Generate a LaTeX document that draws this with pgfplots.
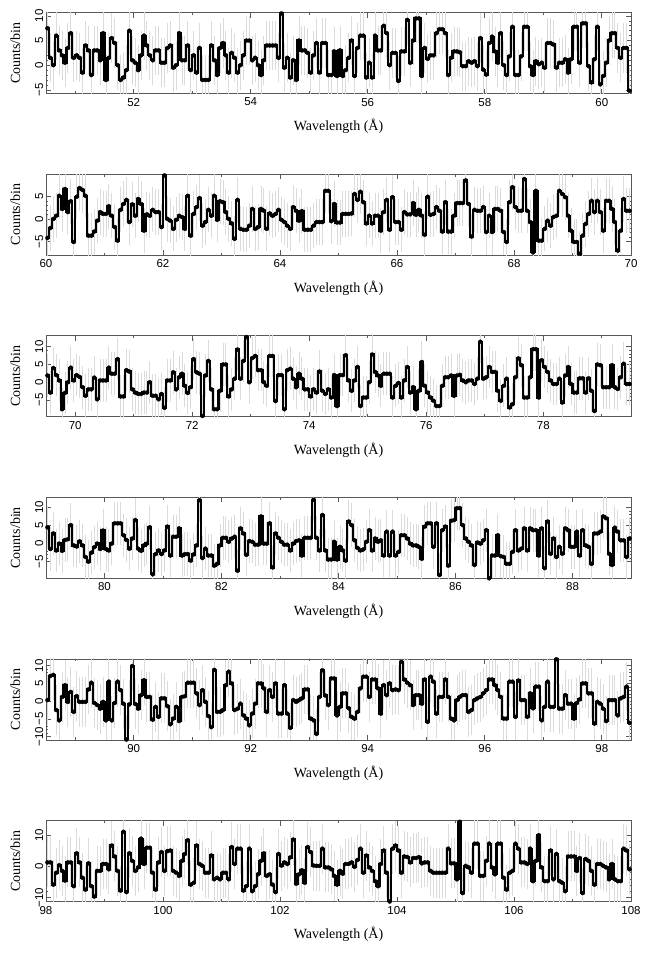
\documentclass[border=0pt]{standalone}
\usepackage{fontspec}
\setmainfont{Liberation Serif}
\setsansfont{Liberation Sans}
\usepackage{pgfplots}
\usepackage{pgfplotstable}
\pgfplotsset{compat=1.18}

\pgfplotstableread[row sep=\\, header=false]{7.5\\1.5\\0\\6\\3\\2\\0.5\\3.5\\6.5\\1.5\\
2\\1.5\\-1.5\\4\\3\\-2\\3\\3\\1\\6.5\\
-3\\1.5\\5.5\\4.5\\0\\-3\\-2.5\\-1\\7\\1\\
0.5\\-1\\2\\6\\4\\2\\1\\3\\3\\0.5\\
0.5\\3.5\\4\\-0.5\\0\\6.5\\1\\1\\4\\-1\\
2\\-1.5\\3.5\\-3\\-3\\-3\\4\\1\\-2\\3.5\\
4.5\\2\\-1.5\\2.5\\1.5\\-1.5\\0\\2\\5\\5\\
1\\1.5\\0\\-2\\1\\4\\4\\4\\4\\1.5\\
10.5\\-0.5\\1.5\\-2.5\\1\\-3\\5\\3\\3\\2.5\\
-1.5\\2\\4.5\\-1.5\\4.5\\4.5\\-2\\-2\\2.8\\-2.2\\
3\\-2.2\\-1\\1.5\\5\\-2.2\\3.5\\6\\6\\-2.5\\
0.5\\-2.5\\6\\3\\3\\8\\6.5\\0\\2.5\\2.5\\
-3.2\\2.8\\2.8\\9.2\\0.5\\5\\9.5\\9.5\\-2.2\\3.5\\
1.3\\2\\2\\6.5\\7.3\\7.3\\6.5\\-2\\1.5\\2.8\\
2.8\\2.6\\-0.2\\-0.2\\0.8\\0.5\\0.8\\-0.2\\5.5\\-0.9\\
-1.9\\4.5\\5.8\\2.8\\0.5\\6.5\\0\\-2\\1.8\\7.8\\
-2\\-2\\1.8\\7.8\\7.8\\-0.2\\-2\\0.8\\0.2\\0.5\\
-0.5\\4.5\\4.5\\4.2\\-0.5\\0.5\\0.5\\1.2\\-1.5\\1.2\\
7.8\\7.8\\0.5\\8.5\\8.5\\-0.2\\-3.5\\1.2\\7.8\\-3.9\\
-2.2\\0.5\\5\\6.5\\6.5\\3.5\\1.5\\3.5\\3.5\\-5.2\\-5.2\\}\dataA

\pgfplotstableread[row sep=\\, header=false]{-4.2\\-2\\0\\0.7\\5.1\\2.2\\6.6\\1.5\\3.9\\-5.1\\
4.9\\6.8\\6.4\\5.1\\-3.7\\-3.7\\-2.8\\-0.4\\1.5\\1.1\\
1.1\\2.8\\0.7\\-1.8\\-4.8\\2\\3.3\\4.2\\-0.7\\3.2\\
0.7\\4.4\\3.3\\-2.6\\1\\0.7\\2\\1.5\\1.5\\-1.8\\
9.6\\0\\-0.4\\-2.2\\-0.2\\0.7\\0.4\\-2.2\\5.1\\-3.7\\
1.1\\2.6\\4.6\\-1.5\\-0.7\\2\\0.7\\5.1\\-0.2\\3.9\\
3.7\\1.5\\0\\-1\\-4.4\\4.2\\-2.2\\-2.4\\-2.4\\-1.5\\
2.2\\-2.2\\-1.8\\2.2\\1.8\\-2.2\\1.2\\0.7\\1.1\\2\\
-0.2\\-0.7\\-1.5\\-2.2\\2.6\\1.8\\-0.4\\1.7\\-2.4\\-2.4\\
-2.4\\-1.5\\-0.7\\-0.7\\-0.7\\6.2\\6.2\\-0.5\\3.3\\-0.8\\
-0.8\\1.1\\1.1\\1.1\\1.2\\5.5\\4.2\\6\\3.7\\-1\\
0.7\\-1\\0.7\\0.7\\-2.6\\1.5\\4.2\\-2.4\\4.8\\-0.7\\
-0.7\\-2.4\\1.5\\1\\1\\3.5\\0.9\\2\\0.7\\-3.5\\
4.9\\0.9\\1.1\\2.6\\1.8\\-2.8\\3.7\\-2.8\\-2.8\\0.7\\
3.5\\3.5\\3.5\\8.5\\3.3\\-3.9\\2\\1.8\\1.8\\2.6\\
-2.9\\0.7\\-2.9\\2.2\\2.2\\1.8\\-2.9\\-5.1\\3.7\\7\\
2.6\\1.8\\1.8\\8.8\\1.8\\-0.7\\-7.4\\6.2\\-4.8\\-4.8\\
-2.2\\-0.4\\-1.5\\0.4\\0.7\\6.2\\5.5\\4.8\\0.7\\-2.6\\
-5.1\\-5.1\\-7.7\\-3.7\\-1.1\\1.1\\4\\1.5\\4\\1.5\\
-2.6\\4\\4\\2.2\\-0.7\\-7\\-2.6\\4.4\\1.8\\1.8\\1.8\\}\dataB

\pgfplotstableread[row sep=\\, header=false]{1.9\\-2.9\\4\\2\\0.5\\-7.6\\-3\\0\\4.1\\0.5\\
2\\1.5\\-1.4\\-3.8\\-2\\-2\\1.3\\-4.8\\0.5\\0.5\\
0.5\\4.1\\2.4\\2.4\\6.5\\-4\\-4\\3.4\\3\\-2\\
-2.9\\-3.3\\-3.3\\-2.9\\-2.9\\0\\-3.8\\-3.8\\-4.8\\-3.3\\
-7.2\\0.5\\0.5\\2.8\\-2\\1.4\\2.4\\-1\\-3\\-1.4\\
6.5\\2.8\\2.4\\-9.5\\1.9\\6\\-2\\-7.6\\-7.6\\-2.4\\
5\\5\\-4\\-2\\1\\9.2\\1\\6\\12.7\\0\\
6.8\\7.4\\3.4\\3.4\\0\\-1\\7.4\\7.4\\-5.3\\2\\
2\\-7.6\\3.4\\3.8\\1\\-1.4\\2.4\\1\\-2\\-2\\
-4\\-2\\-2.9\\3\\-2.4\\-3.3\\-2\\-4.3\\2\\-6.7\\
2\\2\\7.6\\0.5\\-2.4\\0.5\\4.3\\-6.7\\-4.3\\-4.3\\
0\\7.8\\2.9\\1.9\\-1\\2.4\\2.4\\2.4\\-4.3\\-1\\
-0.2\\-4.3\\0.5\\4.3\\-2.9\\-1.4\\-7.6\\-2.4\\5.7\\-1\\
-2.9\\-4.3\\-5.2\\-6.7\\-6.7\\-1\\1.4\\1.4\\1.9\\-3.8\\
1.9\\2.1\\0.5\\0\\0.5\\0.5\\-0.5\\1\\11.4\\1\\
1.4\\4.3\\2.9\\2.9\\-2.4\\-5.2\\-1\\1\\-7.1\\-6.2\\
1.4\\6.7\\4.8\\-4.3\\-4.3\\1.4\\9.3\\9.3\\-4.3\\6.2\\
4.3\\2.9\\0.5\\-0.5\\-0.5\\1\\-5.7\\1.9\\4.3\\-0.5\\
-2.9\\-2.9\\1.1\\1.1\\-2.9\\1.1\\-2.4\\-8.1\\5\\4.8\\
-1.4\\-1.4\\-1.4\\4.8\\-1.4\\-1.9\\1.4\\5.2\\-0.5\\-0.5\\-0.5\\}\dataC

\pgfplotstableread[row sep=\\, header=false]{4.5\\-1.5\\2.8\\-1.9\\0\\-2\\1\\1.2\\5.1\\-0.5\\
-0.8\\0.6\\-0.5\\-3.7\\-5\\-2.5\\-1\\0\\-1.5\\3.6\\
-1.5\\-1.9\\0\\5.6\\5.6\\5.6\\2.3\\1\\-1.4\\1.4\\
6.5\\-1.4\\-2\\-0.5\\0\\4.5\\-8.5\\-2.9\\-1.9\\-2.9\\
-1.9\\4.7\\-3.3\\1.9\\1.9\\4.2\\-3.3\\-2.9\\-2.9\\-4.7\\
-3\\-0.5\\12\\-4\\-1.4\\-3.3\\-3.3\\-6.1\\-5.6\\-0.5\\
1.6\\1.6\\0.5\\1.4\\1.9\\-7.5\\4.2\\2.8\\-3.1\\0.7\\
0.5\\-0.3\\-0.3\\7.5\\0\\0\\5.6\\-6.6\\2.8\\1.6\\
0.5\\-0.3\\-0.3\\-1.9\\0\\0.7\\0.9\\-3.3\\1.6\\1.6\\
1.6\\12.1\\1.6\\-1.9\\7.9\\-1.9\\-4.4\\-4.4\\0.5\\-4.4\\
-0.9\\-1.9\\-4.7\\6.1\\5.1\\0.9\\-1.2\\-1.9\\-1.6\\0.5\\
3.7\\-1.9\\1.4\\0.5\\0.9\\-3.3\\3.3\\-3.3\\3.3\\-3.3\\
-2.3\\2.3\\2.3\\1.4\\0\\-0.5\\-0.5\\-0.9\\-4.2\\4.7\\
5.6\\5.6\\-0.9\\5.6\\-8.7\\3.7\\4.7\\-6.1\\6.3\\6.5\\
9.8\\9.8\\5.1\\1.4\\0.5\\-0.5\\-5.9\\0.3\\0\\0.9\\
3.7\\-9.6\\-3.3\\-3.3\\2.3\\-3.5\\-3.7\\-5.6\\-5.6\\-2.3\\
3.7\\-1.9\\-1.4\\4.2\\-1.9\\4.2\\3.7\\3.7\\-3.3\\4.2\\
-6.8\\6.1\\-2.8\\1.4\\-3.7\\-0.9\\-2.8\\4.2\\3.7\\-0.9\\
-0.9\\3.3\\-3.3\\3.7\\-0.5\\-0.9\\-5.6\\2.8\\2.8\\3.3\\
7.5\\7\\-2.8\\-5.9\\4.4\\3.3\\0.9\\0.9\\-3.7\\1.4\\1.4\\}\dataD

\pgfplotstableread[row sep=\\, header=false]{0.3\\7.1\\7.4\\-2.5\\-5.4\\1.2\\4.5\\-0.2\\2.6\\-3\\
1.4\\-0.2\\-0.2\\-0.2\\3.3\\5.2\\-0.5\\-1.1\\-2.1\\-0.2\\
-5.4\\5.5\\-5.4\\-0.5\\5.5\\3.1\\-0.7\\-10.8\\-0.9\\9.9\\
-0.8\\-2.1\\1.7\\5.9\\1.2\\1.2\\-5.2\\-1.6\\-4.4\\0.8\\
0.8\\-1.4\\-6.5\\-4.9\\-1.6\\-5.6\\1.2\\1.4\\5.2\\5.2\\
5.2\\2.2\\-1.1\\3.1\\-0.2\\-4.2\\-7.3\\8.8\\-3\\-3\\
-2.5\\4.5\\8.3\\5\\-2.5\\-2.1\\-0.7\\-4\\-4.9\\-6.8\\
-3.5\\-0.7\\5\\5\\3.6\\-3\\3.1\\1.2\\5\\-3.5\\
-3.5\\4.5\\-3.5\\-7.5\\0.3\\-0.2\\0.3\\0.8\\3.3\\3.3\\
-4.9\\-5.4\\-9.2\\1.2\\8.7\\1.6\\-1.1\\6.4\\6.4\\-4\\
-1.6\\2.2\\2.2\\-2\\-4.4\\-4.9\\-3\\3.6\\6.9\\6.9\\
1.2\\6.1\\6.1\\3.6\\-3.5\\4.5\\1.7\\5\\3.1\\3.3\\
3.1\\11.1\\6.1\\5.2\\4.5\\-1.1\\1.7\\1.7\\-0.7\\6.1\\
-5.8\\6.9\\5.5\\-3.5\\1.2\\1.2\\6.1\\1.2\\-4.9\\-5.4\\
0.3\\1.2\\1.7\\1.7\\-3\\-2.5\\0.3\\0.8\\1.2\\2.2\\
3.1\\6.1\\6.1\\4.5\\3.1\\1.2\\-4.9\\-4.9\\5.5\\5.5\\
-4.4\\5.8\\0.3\\0.3\\-4.4\\2.2\\-2\\4.1\\4.1\\-5.4\\
-1.6\\5.5\\-1.6\\-1.6\\11.8\\-2.1\\-2.1\\1.7\\-0.7\\-0.7\\
-4.9\\-0.5\\0.5\\5\\5\\2.2\\2.2\\-6.3\\-0.2\\-0.7\\
-2.1\\-5.6\\0.3\\0.3\\0.3\\-4\\0.8\\1.2\\4.1\\-6.1\\-6.1\\}\dataE

\pgfplotstableread[row sep=\\, header=false]{1.3\\1.3\\-5.8\\-2\\0.4\\-1.4\\-4.5\\1.3\\1.3\\-6.3\\
4.2\\1.3\\-3.6\\-7.4\\1\\-6.3\\-9.6\\-1.4\\-1.4\\0.8\\
0.8\\-0.9\\6.7\\3.2\\-1.4\\-7.7\\11.1\\-8.2\\4.2\\1.8\\
-1.4\\-0.3\\8.9\\0.8\\6\\6\\-2\\-7.4\\1.3\\4.6\\
-1.4\\4.9\\5.1\\-1.4\\-2\\-3\\1.8\\4\\8.4\\-5.8\\
-5.2\\6.7\\0.8\\0.2\\-2\\-2\\3.5\\-4.1\\-3.6\\-4.1\\
-2\\-2\\-4.1\\6.2\\0.8\\5.7\\5.7\\-7.7\\-6.3\\5.7\\
-7.9\\-6.3\\-2.5\\1.8\\4.2\\-3\\-2.5\\-5.8\\-8.2\\4\\
0.3\\1.3\\0.8\\2.9\\8.6\\-5.5\\-2.5\\-1.2\\-5.2\\6.2\\
4.6\\0.3\\0.2\\0.2\\5.7\\-0.3\\-0.3\\-0.9\\-3\\-5.8\\
-1.4\\-2.3\\0.8\\0.8\\1.3\\-0.1\\2.1\\5.7\\-2\\3.5\\
-0.3\\-1.4\\-4.7\\-6.3\\0.8\\5.1\\-2\\-11.2\\5.7\\6.7\\
5.1\\-2\\3.2\\3\\1.3\\2.7\\2.7\\3\\1\\1.3\\
1.3\\-1.4\\-2\\-2\\-2\\-2\\-2\\5.7\\1\\1\\
-4.1\\14.3\\-8.5\\0.2\\-0.3\\-2\\7.3\\7.3\\-3\\-3\\
1.8\\7.3\\-0.3\\-2.5\\7.3\\7.3\\-3.6\\-7.4\\-2\\-1.4\\
7.3\\5.7\\1.3\\1.3\\0.8\\5.7\\-4.7\\1.8\\10\\-0.3\\
-4.7\\-4.7\\5.1\\-4.1\\4\\-4.7\\-5.2\\-7.9\\3.2\\3.2\\
3.2\\-1.4\\2.7\\-8.5\\2.4\\1.8\\-1.4\\-5.8\\0.8\\0.8\\
0.2\\-0.3\\-4.1\\0.8\\-4.1\\-4.7\\-4.7\\5.7\\5.1\\-0.9\\-0.9\\}\dataF

\pgfplotsset{
  panel/.style={
    width=585pt, height=81pt, scale only axis,
    axis line style={black!65, line width=0.7pt},
    every tick/.style={black!65, line width=0.6pt},
    major tick length=5pt, minor tick length=2.5pt,
    tick align=inside,
    xtick distance=2, minor x tick num=1,
    minor y tick num=4,
    tick label style={font=\sffamily\fontsize{11.5}{13}\selectfont},
    /pgf/number format/assume math mode=true,
    xticklabel style={yshift=-1pt},
    yticklabel style={rotate=90, anchor=south, inner sep=2.5pt},
    xlabel={Wavelength (Å)},
    ylabel={Counts/bin},
    every axis x label/.style={at={(axis description cs:0.5,-0.41)}, anchor=center, font=\fontsize{14}{16}\selectfont},
    every axis y label/.style={at={(axis description cs:-0.0525,0.5)}, rotate=90, anchor=center, font=\fontsize{14}{16}\selectfont},
  },
  hist/.style={const plot mark left, black, line width=2.2pt, mark=none},
  errs/.style={only marks, mark=none, error bars/.cd, y dir=both, y fixed=#1, error mark=none,
    error bar style={gray!28, line width=0.9pt}},
}

\begin{document}
\begin{tikzpicture}
\path[use as bounding box] (-46pt,-860.5pt) rectangle (606pt,93.5pt);

\begin{axis}[panel, at={(0pt,0pt)}, xmin=50.5, xmax=60.5, ymin=-5.75, ymax=10.7,
  ytick={-5,0,5,10}, yticklabels={−5,0,5,10}]
\addplot[errs=5] table[x expr={50.525+0.05*\coordindex}, y index=0] {\dataA};
\addplot[hist] table[x expr={50.5+0.05*\coordindex}, y index=0] {\dataA};
\end{axis}

\begin{axis}[panel, at={(0pt,-161.6pt)}, xmin=60, xmax=70, ymin=-8, ymax=9.9,
  ytick={-5,0,5}, yticklabels={−5,0,5}]
\addplot[errs=5] table[x expr={60.025+0.05*\coordindex}, y index=0] {\dataB};
\addplot[hist] table[x expr={60+0.05*\coordindex}, y index=0] {\dataB};
\end{axis}

\begin{axis}[panel, at={(0pt,-323.2pt)}, xmin=69.5, xmax=79.5, ymin=-9.7, ymax=13.1,
  ytick={-5,0,5,10}, yticklabels={−5,0,5,10}]
\addplot[errs=6] table[x expr={69.525+0.05*\coordindex}, y index=0] {\dataC};
\addplot[hist] table[x expr={69.5+0.05*\coordindex}, y index=0] {\dataC};
\end{axis}

\begin{axis}[panel, at={(0pt,-484.8pt)}, xmin=79, xmax=89, ymin=-9.6, ymax=12.8,
  ytick={-5,0,5,10}, yticklabels={−5,0,5,10}]
\addplot[errs=6] table[x expr={79.025+0.05*\coordindex}, y index=0] {\dataD};
\addplot[hist] table[x expr={79+0.05*\coordindex}, y index=0] {\dataD};
\end{axis}

\begin{axis}[panel, at={(0pt,-646.4pt)}, xmin=88.5, xmax=98.5, ymin=-10.9, ymax=11.9,
  ytick={-10,-5,0,5,10}, yticklabels={−10,−5,0,5,10}]
\addplot[errs=7] table[x expr={88.525+0.05*\coordindex}, y index=0] {\dataE};
\addplot[hist] table[x expr={88.5+0.05*\coordindex}, y index=0] {\dataE};
\end{axis}

\begin{axis}[panel, at={(0pt,-808pt)}, xmin=98, xmax=108, ymin=-11.2, ymax=14.7,
  ytick={-10,0,10}, yticklabels={−10,0,10}]
\addplot[errs=8] table[x expr={98.025+0.05*\coordindex}, y index=0] {\dataF};
\addplot[hist] table[x expr={98+0.05*\coordindex}, y index=0] {\dataF};
\end{axis}
\end{tikzpicture}
\end{document}
